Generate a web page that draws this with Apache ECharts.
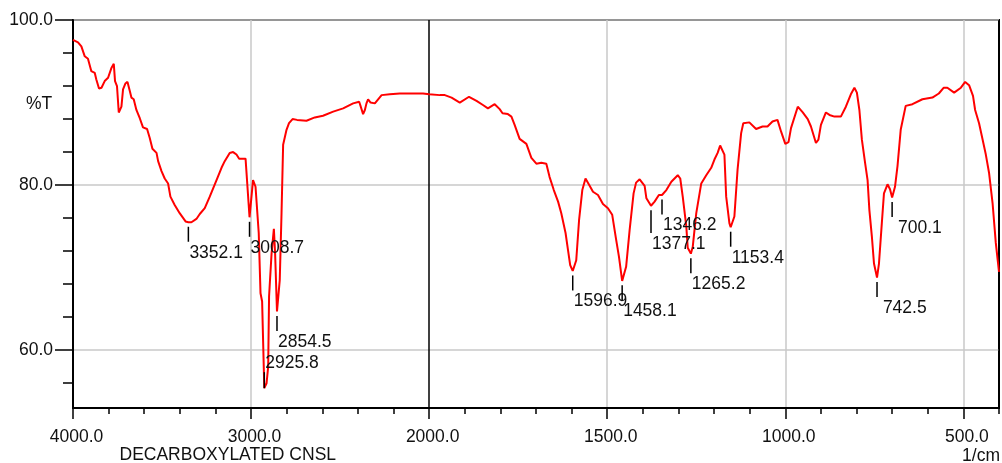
<!DOCTYPE html>
<html>
<head>
<meta charset="utf-8">
<script src="https://cdn.jsdelivr.net/npm/echarts@6/dist/echarts.min.js"></script>
<style>html,body{margin:0;padding:0;background:#fff}#c{width:1002px;height:463px}</style>
</head>
<body>
<div id="c"></div>
<script>
// ---- data (wavenumber in 1/cm, %T) ----
const wavenumbers = [
4000,3972,3953,3934,3916,3897,3878,3869,3854,3840,3822,3803,3784,3771,3764,3753,3743,3728,3719,3706,
3694,3681,3672,3659,3644,3625,3607,3584,3569,3554,3531,3522,3503,3485,3466,3453,3429,3401,3368,3352.1,
3335,3307,3288,3260,3232,3213,3194,3166,3148,3120,3101,3082,3067,3031,3008.7,2989,2975,2957,2947,2938,
2925.8,2913,2904,2899,2885,2872,2865,2854.5,2839,2829,2820,2801,2787,2767,2742,2689,2642,2596,2539,2483,
2427,2393,2384,2371,2361,2352,2343,2329,2305,2267,2221,2165,2090,2034,2000,1970,1956,1937,1914,1888,
1867,1849,1835,1816,1802,1794,1779,1769,1760,1746,1727,1713,1699,1685,1671,1662,1650,1638,1629,1617,
1610,1604,1596.9,1587,1579,1570,1561,1549,1540,1526,1512,1498,1486,1475,1467,1458.1,1447,1437,1426,1419,
1409,1395,1390,1377.1,1367,1355,1346.2,1334,1320,1302,1295,1288,1278,1274,1265.2,1260,1250,1236,1222,1208,
1199,1190,1183,1171,1166,1157,1153.4,1143,1134,1124,1118,1101,1082,1064,1050,1036,1022,1012,1000,991,
984,965,951,937,928,921,914,907,900,886,876,862,844,830,816,806,799,792,785,776,
769,764,757,751,742.5,737,729,723,713,706,700.1,692,685,676,662,643,615,587,569,555,
545,526,507,495,484,473,467,456,447,437,428,418,409,400
];
const transmittance = [
97.6,97.3,96.8,95.6,95.3,93.8,93.6,92.8,91.7,91.8,92.6,93.0,94.2,94.7,92.6,92.0,88.8,89.5,91.6,92.3,
92.5,91.4,90.6,90.4,89.1,88.1,87.0,86.8,85.7,84.4,83.9,82.9,81.7,80.8,80.2,78.6,77.6,76.6,75.6,75.5,
75.5,75.9,76.5,77.2,78.6,79.6,80.6,82.1,82.9,83.9,84.0,83.7,83.2,83.2,76.1,80.6,79.8,74.2,66.9,65.9,
55.4,56.0,58.0,66.5,71.7,74.7,71.7,64.7,68.5,76.6,84.9,86.7,87.5,88.0,87.9,87.8,88.2,88.4,88.9,89.3,
89.9,90.1,89.5,88.6,89.1,89.9,90.4,90.0,89.9,90.9,91.0,91.1,91.1,91.1,91.0,90.9,90.9,90.6,90.0,90.7,
90.2,89.7,89.3,89.8,89.2,88.7,88.6,88.3,87.3,85.6,85.0,83.3,82.6,82.7,82.6,81.0,79.4,78.0,76.6,74.2,
72.1,70.3,69.6,70.9,75.8,79.4,80.8,79.9,79.2,78.8,77.7,77.2,76.4,73.4,71.3,68.4,70.1,74.6,79.0,80.3,
80.7,79.9,78.4,77.5,78.0,78.8,78.8,79.4,80.4,81.2,80.8,78.6,75.0,72.4,71.7,72.5,76.6,80.2,81.2,82.1,
83.1,83.9,84.8,83.7,78.6,75.4,74.9,76.2,81.9,86.3,87.5,87.6,86.8,87.1,87.1,87.7,87.9,86.5,85.0,85.2,
86.9,89.5,88.8,88.0,87.1,86.1,85.1,85.5,87.3,88.8,88.5,88.3,88.3,89.5,91.0,91.8,91.2,89.1,85.5,82.7,
80.6,77.0,73.8,70.5,68.8,70.5,75.4,79.0,80.1,79.5,78.5,79.8,82.3,86.7,89.6,89.8,90.4,90.6,91.1,91.8,
91.8,91.2,91.8,92.5,92.1,90.8,89.1,87.5,85.7,83.7,81.5,77.8,73.0,69.5
];
const peakWavenumbers = [3352.1,3008.7,2925.8,2854.5,1596.9,1458.1,1377.1,1346.2,1265.2,1153.4,742.5,700.1];
const peakTransmittance = [75.5,76.1,55.4,64.7,69.6,68.4,77.5,78.8,71.7,74.9,68.8,78.5];
const yLabelValues = [60, 80, 100];
const yMinorValues = [56,60,64,68,72,76,80,84,88,92,96,100];
const yTitle = '%T';
const xTitle = '1/cm';
const sampleName = 'DECARBOXYLATED CNSL';

// ---- piecewise wavenumber axis (scale doubles below 2000 1/cm) ----
function toAxis(wn) { return wn >= 2000 ? (4000 - wn) / 2 : 1000 + (2000 - wn); }
function fromAxis(u) { return u <= 1000 ? 4000 - 2 * u : 2000 - (u - 1000); }

const FONT_FAMILY = '"Liberation Sans", Arial, Helvetica, sans-serif';
const FS = 17.5;
const TEXT_COLOR = '#111';
const FONT = FS + 'px ' + FONT_FAMILY;

const measureCtx = document.createElement('canvas').getContext('2d');
measureCtx.font = FONT;
function textWidth(s) { return measureCtx.measureText(s).width; }

const lineData = wavenumbers.map((wn, i) => [toAxis(wn), transmittance[i]]);
const peakOrder = peakWavenumbers.map((_, i) => i).sort((a, b) => peakTransmittance[b] - peakTransmittance[a]);
const peakData = peakOrder.map(i => [toAxis(peakWavenumbers[i]), peakTransmittance[i], peakWavenumbers[i]]);

let placed = [];
function renderPeak(params, api) {
  if (params.dataIndexInside === 0) placed = [];
  const wn = api.value(2);
  const p = api.coord([api.value(0), api.value(1)]);
  const cs = params.coordSys;
  const bottom = cs.y + cs.height;
  const label = wn.toFixed(1).padStart(6, ' ');
  const w = textWidth(label);
  const halfH = 7;
  const x = p[0];
  let tickTop = p[1] + 4.5;
  let tickBottom = tickTop + 15;
  let cy = tickBottom + 11;
  if (cy + halfH > bottom) {
    tickBottom = p[1];
    tickTop = p[1] - 16;
    cy = tickTop - 9;
  } else {
    let moved = true, guard = 0;
    while (moved && guard++ < 20) {
      moved = false;
      for (const b of placed) {
        if (x + 6 < b.x2 && x + w - 6 > b.x1 && cy - halfH < b.y2 && cy + halfH > b.y1) {
          cy = b.y2 + 4.5 + halfH;
          moved = true;
        }
      }
    }
    tickBottom = cy - 11;
  }
  placed.push({x1: x, x2: x + w, y1: cy - halfH, y2: cy + halfH});
  return {
    type: 'group',
    children: [
      {type: 'line', shape: {x1: x, y1: tickTop, x2: x, y2: tickBottom},
       style: {stroke: '#000', lineWidth: 1.5}},
      {type: 'text', x: x + 1, y: cy,
       style: {text: label, fill: TEXT_COLOR, font: FONT, align: 'left', verticalAlign: 'middle'}}
    ]
  };
}

const chart = echarts.init(document.getElementById('c'), null, {renderer: 'canvas'});
const labelStyle = {fontSize: FS, fontFamily: FONT_FAMILY, color: TEXT_COLOR};

chart.setOption({
  animation: false,
  backgroundColor: '#fff',
  grid: {left: 73, top: 20, width: 926, height: 388, show: true, borderColor: '#000', borderWidth: 2, backgroundColor: 'transparent', containLabel: false},
  xAxis: [
    {
      type: 'value', position: 'bottom', min: 0, max: toAxis(400), interval: 500,
      axisLine: {show: true, onZero: false, lineStyle: {color: '#000', width: 2}},
      axisTick: {show: true, length: 11, lineStyle: {color: '#000', width: 1.5}},
      minorTick: {show: false},
      axisLabel: {show: true, interval: 0, showMaxLabel: false, margin: 20, padding: [0, 0, 0, 7],
        formatter: v => fromAxis(v).toFixed(1), ...labelStyle},
      splitLine: {show: true, lineStyle: {width: 1.5, color: ['#000', '#c8c8c8', '#000', '#c8c8c8', '#c8c8c8', '#c8c8c8', '#000']}}
    },
    {
      type: 'value', position: 'bottom', min: 0, max: toAxis(400), interval: 100,
      axisLine: {show: false, onZero: false},
      axisTick: {show: true, length: 6, lineStyle: {color: '#000', width: 1.5}},
      axisLabel: {show: false},
      splitLine: {show: false}
    }
  ],
  yAxis: [
    {
      type: 'value', position: 'left', min: 53, max: 100,
      axisLine: {show: true, onZero: false, lineStyle: {color: '#000', width: 2}},
      axisTick: {show: true, length: 18, customValues: yLabelValues, lineStyle: {color: '#000', width: 1.5}},
      axisLabel: {show: true, customValues: yLabelValues, margin: 20, formatter: v => Number(v).toFixed(1), ...labelStyle},
      splitLine: {show: true, lineStyle: {color: '#c8c8c8', width: 1.5}}
    },
    {
      type: 'value', position: 'left', min: 53, max: 100,
      axisLine: {show: false, onZero: false},
      axisTick: {show: true, length: 10, customValues: yMinorValues, lineStyle: {color: '#000', width: 1.5}},
      axisLabel: {show: false},
      splitLine: {show: false}
    }
  ],
  graphic: [
    {type: 'text', x: 26, y: 104, style: {text: yTitle, font: FONT, fill: TEXT_COLOR, align: 'left', verticalAlign: 'middle'}},
    {type: 'text', x: 119.5, y: 455.5, style: {text: sampleName, font: FONT, fill: TEXT_COLOR, align: 'left', verticalAlign: 'middle'}},
    {type: 'text', x: 1000, y: 456.5, style: {text: xTitle, font: FONT, fill: TEXT_COLOR, align: 'right', verticalAlign: 'middle'}}
  ],
  series: [
    {
      type: 'line', xAxisIndex: 0, yAxisIndex: 0, data: lineData, showSymbol: false, symbol: 'none',
      lineStyle: {color: '#ff0000', width: 2}, z: 3, silent: true
    },
    {
      type: 'custom', xAxisIndex: 0, yAxisIndex: 0, data: peakData, renderItem: renderPeak,
      encode: {x: 0, y: 1}, clip: false, z: 4, silent: true
    }
  ]
});
</script>
</body>
</html>
